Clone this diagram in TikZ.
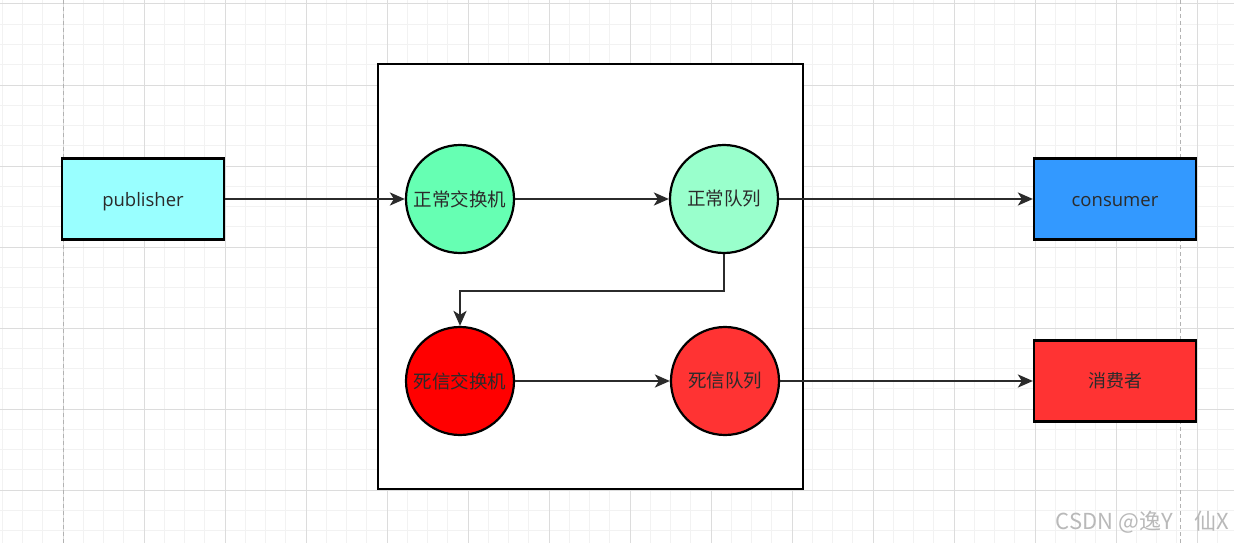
\documentclass[tikz,border=0pt]{standalone}
\usepackage{fontspec}
\setmainfont{Open Sans}
\newfontfamily\cjk{Noto Sans CJK SC}
\usetikzlibrary{arrows.meta,positioning}
\definecolor{gridminor}{HTML}{F2F2F2}
\definecolor{gridmajor}{HTML}{DCDCDC}
\definecolor{edgecol}{HTML}{2B2B2B}
\definecolor{pubfill}{HTML}{99FFFF}
\definecolor{conFill}{HTML}{3399FF}
\definecolor{normxfill}{HTML}{66FFB3}
\definecolor{normqfill}{HTML}{99FFCC}
\definecolor{deadxfill}{HTML}{FF0000}
\definecolor{deadqfill}{HTML}{FF3333}
\newcommand{\lowtxt}[1]{\raisebox{-3pt}[\height][\depth]{#1}}
\tikzset{
  appbox/.style={draw=black, line width=2.2pt, minimum width=162pt, minimum height=81pt,
    font=\fontsize{18.5}{20}\selectfont, text=edgecol},
  mqnode/.style={draw=black, line width=2.2pt, circle, minimum size=108pt, inner sep=0pt,
    font=\cjk\fontsize{18.5}{20}\selectfont, text=edgecol},
  flow/.style={draw=edgecol, line width=2.5pt, -{Stealth[length=15pt,width=13pt,inset=4pt]}}
}
\begin{document}
\begin{tikzpicture}[x=1pt, y=-1pt]
    \useasboundingbox (0,0) rectangle (1234,543);
    \fill[white] (0,0) rectangle (1234,543);
    % 网格
    \foreach \k in {0,...,61}
        \draw[gridminor, line width=1pt] (2.25+20.25*\k,0) -- (2.25+20.25*\k,543);
    \foreach \k in {0,...,27}
        \draw[gridminor, line width=1pt] (0,4+20.25*\k) -- (1234,4+20.25*\k);
    \foreach \k in {0,...,15}
        \draw[gridmajor, line width=1pt] (63+81*\k,0) -- (63+81*\k,543);
    \foreach \k in {0,...,6}
        \draw[gridmajor, line width=1pt] (0,4+81*\k) -- (1234,4+81*\k);
    \draw[gray!60, line width=1pt, dash pattern=on 4pt off 3pt] (63,0) -- (63,543);
    \draw[gray!60, line width=1pt, dash pattern=on 4pt off 3pt] (1180,0) -- (1180,543);

    % 容器
    \draw[black, line width=2.2pt, fill=white] (378,64) rectangle (803,489);

    % 节点
    \node[appbox, fill=pubfill] (publisher) at (143,199) {\lowtxt{publisher}};
    \node[mqnode, fill=normxfill] (normx) at (460,199) {正常交换机};
    \node[mqnode, fill=normqfill] (normq) at (724,199) {正常队列};
    \node[mqnode, fill=deadxfill] (deadx) at (460,381) {死信交换机};
    \node[mqnode, fill=deadqfill] (deadq) at (725,381) {死信队列};
    \node[appbox, fill=conFill] (consumer) at (1115,199) {\lowtxt{consumer}};
    \node[appbox, fill=deadqfill, font=\cjk\fontsize{18}{20}\selectfont] (deadcon) at (1115,381) {消费者};

    % 连线
    \draw[flow] (publisher) -- (normx);
    \draw[flow] (normx) -- (normq);
    \draw[flow] (normq) -- (consumer);
    \draw[flow] (normq.south) -- ++(0,37) -| (deadx.north);
    \draw[flow] (deadx) -- (deadq);
    \draw[flow] (deadq) -- (deadcon);

    % 水印
    \node[anchor=east, text=gray!55, font=\cjk\fontsize{22}{24}\selectfont] (mark) at (1233,522) {CSDN @逸Y\hspace{22pt}仙X};
\end{tikzpicture}
\end{document}
